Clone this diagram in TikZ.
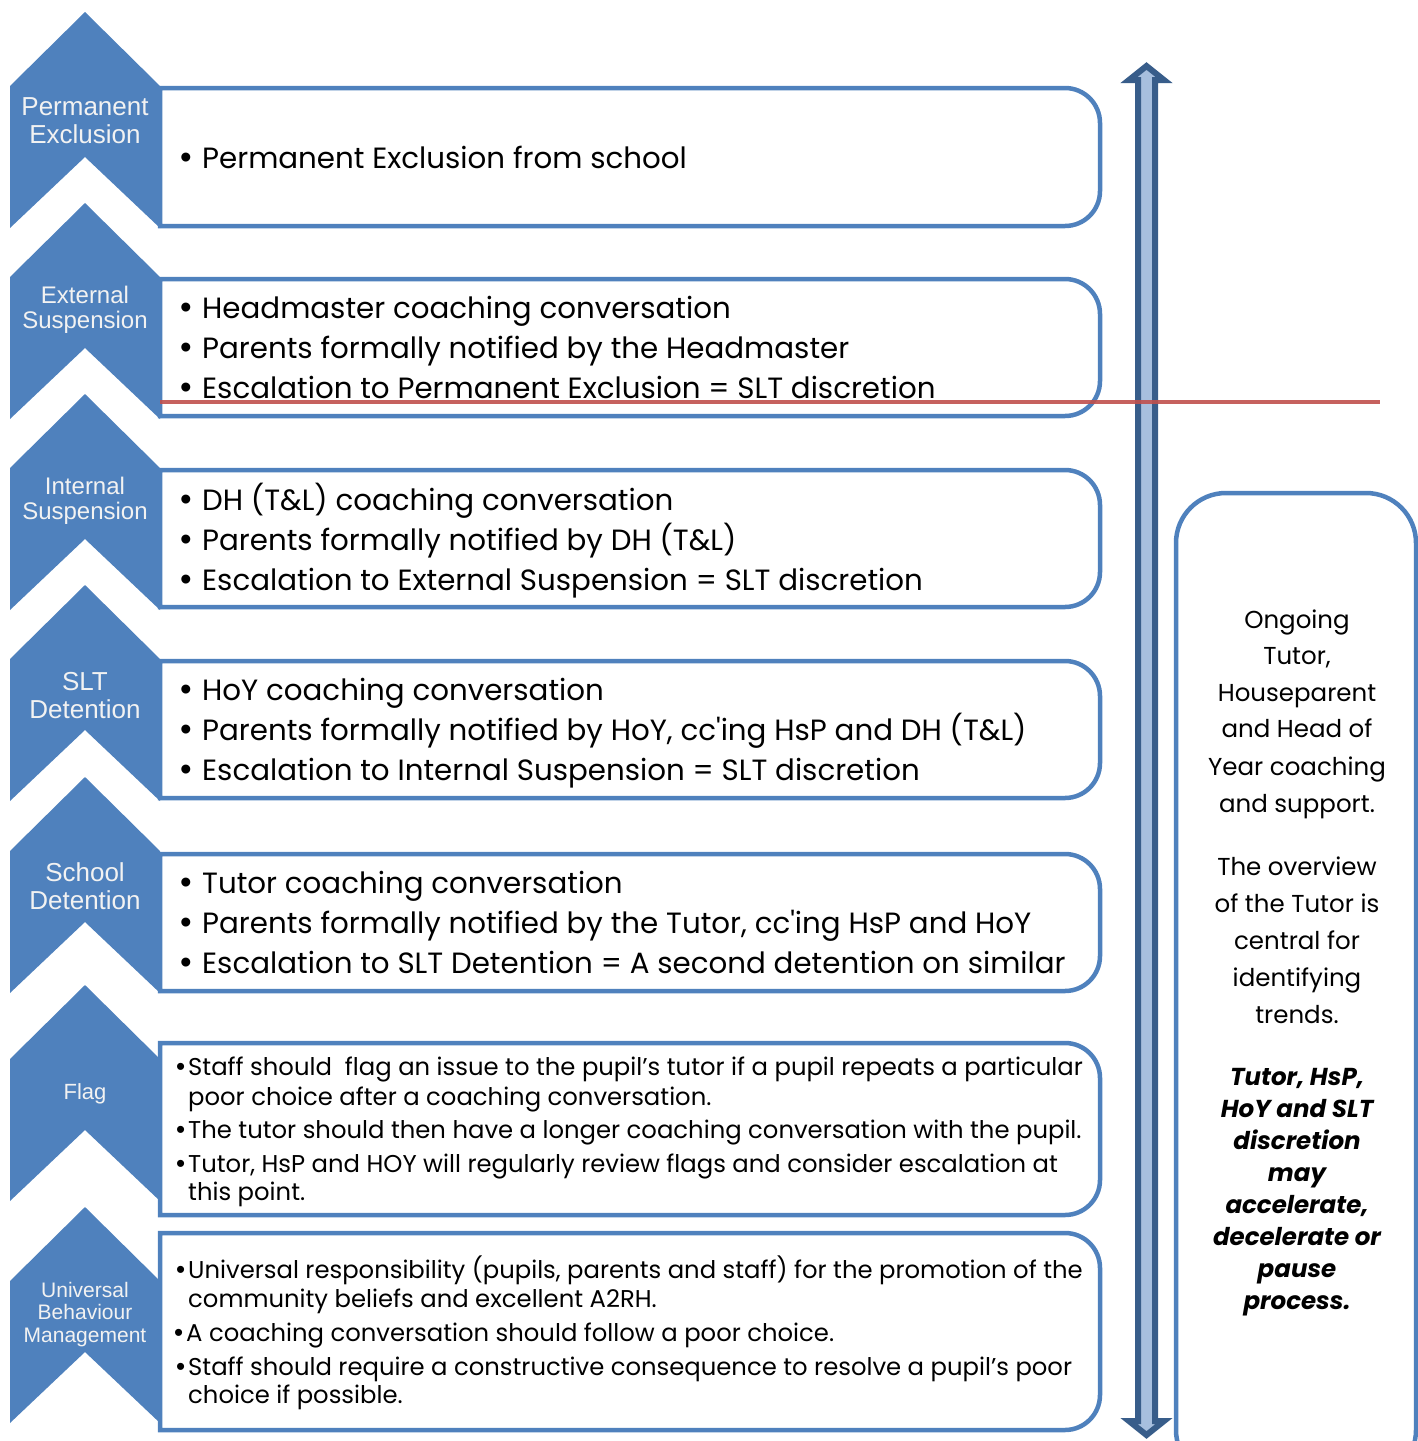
\documentclass[tikz,border=0pt]{standalone}
\usepackage{fontspec}
\setmainfont{Poppins}
\newfontfamily\chevfont{Liberation Sans}
\newcommand\bigbul{\makebox[22pt][l]{\chevfont\fontsize{33}{33}\selectfont •}}
\newcommand\smbul{\makebox[12pt][l]{\chevfont\fontsize{26}{26}\selectfont •}}
\definecolor{chevblue}{HTML}{4F81BD}
\definecolor{arrdark}{HTML}{385D8A}
\definecolor{arrlight}{HTML}{A7BFDE}
\definecolor{redline}{HTML}{C0504D}
\tikzset{
  boxline/.style={draw=chevblue, line width=4.5pt, fill=white},
  chevshape/.style={fill=chevblue},
  chevlabel/.style={text=white!95!black, font=\chevfont, anchor=base, inner sep=0pt},
  bigtext/.style={anchor=base west, inner sep=0pt, font=\fontsize{29.3}{36}\selectfont},
  smalltext/.style={anchor=base west, inner sep=0pt, font=\fontsize{24.3}{29}\selectfont},
  sidetext/.style={anchor=base, inner sep=0pt, font=\fontsize{24.5}{30}\selectfont},
  sidebold/.style={anchor=base, inner sep=0pt, font=\fontsize{24.5}{30}\selectfont\bfseries\itshape},
}
\begin{document}
\begin{tikzpicture}[x=1pt,y=-1pt]
\useasboundingbox (0,0) rectangle (1418,1441);
% content boxes (left square, right rounded)
\foreach \top/\bot/\nm in {88/226/b1,279/416/b2,470/607/b3,661/798/b4,854/991/b5,1043/1215/b6,1233/1430/b7}{
  \draw[boxline] (160,\top) -- (1065,\top) arc[start angle=90,end angle=0,radius=35pt]
     -- (1100,\bot-35) arc[start angle=0,end angle=-90,radius=35pt] -- (160,\bot) -- cycle;
}
% chevrons
\foreach \t in {12,203,394,585,777,985,1207}{
  \fill[chevshape] (10,{\t+74}) -- (85,\t) -- (160,{\t+74}) -- (160,{\t+216}) -- (85,{\t+145}) -- (10,{\t+216}) -- cycle;
}
% chevron labels
\node[chevlabel, font=\chevfont\fontsize{26}{30}\selectfont] (c1a) at (85,115) {Permanent};
\node[chevlabel, font=\chevfont\fontsize{26}{30}\selectfont] (c1b) at (85,143) {Exclusion};
\node[chevlabel, font=\chevfont\fontsize{24}{28}\selectfont] (c2a) at (85,303) {External};
\node[chevlabel, font=\chevfont\fontsize{24}{28}\selectfont] (c2b) at (85,328) {Suspension};
\node[chevlabel, font=\chevfont\fontsize{24}{28}\selectfont] (c3a) at (85,494) {Internal};
\node[chevlabel, font=\chevfont\fontsize{24}{28}\selectfont] (c3b) at (85,519) {Suspension};
\node[chevlabel, font=\chevfont\fontsize{26}{30}\selectfont] (c4a) at (85,690) {SLT};
\node[chevlabel, font=\chevfont\fontsize{26}{30}\selectfont] (c4b) at (85,718) {Detention};
\node[chevlabel, font=\chevfont\fontsize{26}{30}\selectfont] (c5a) at (85,881) {School};
\node[chevlabel, font=\chevfont\fontsize{26}{30}\selectfont] (c5b) at (85,909) {Detention};
\node[chevlabel, font=\chevfont\fontsize{22}{26}\selectfont] (c6a) at (85,1099) {Flag};
\node[chevlabel, font=\chevfont\fontsize{21}{25}\selectfont] (c7a) at (85,1297) {Universal};
\node[chevlabel, font=\chevfont\fontsize{21}{25}\selectfont] (c7b) at (85,1319) {Behaviour};
\node[chevlabel, font=\chevfont\fontsize{21}{25}\selectfont] (c7c) at (85,1342) {Management};
% box texts
\node[bigtext] (t1a) at (180,168) {\bigbul Permanent Exclusion from school};
\node[bigtext] (t2a) at (180,318) {\bigbul Headmaster coaching conversation};
\node[bigtext] (t2b) at (180,358) {\bigbul Parents formally notified by the Headmaster};
\node[bigtext] (t2c) at (180,398) {\bigbul Escalation to Permanent Exclusion = SLT discretion};
\node[bigtext] (t3a) at (180,510) {\bigbul DH (T\&L) coaching conversation};
\node[bigtext] (t3b) at (180,550) {\bigbul Parents formally notified by DH (T\&L)};
\node[bigtext] (t3c) at (180,590) {\bigbul Escalation to External Suspension = SLT discretion};
\node[bigtext] (t4a) at (180,700) {\bigbul HoY coaching conversation};
\node[bigtext] (t4b) at (180,740) {\bigbul Parents formally notified by HoY, cc\textquotesingle ing HsP and DH (T\&L)};
\node[bigtext] (t4c) at (180,780) {\bigbul Escalation to Internal Suspension = SLT discretion};
\node[bigtext] (t5a) at (180,893) {\bigbul Tutor coaching conversation};
\node[bigtext] (t5b) at (180,933) {\bigbul Parents formally notified by the Tutor, cc\textquotesingle ing HsP and HoY};
\node[bigtext] (t5c) at (180,973) {\bigbul Escalation to SLT Detention = A second detention on similar};
% flag box
\node[smalltext] (t6a) at (176,1075) {\smbul Staff should \ flag an issue to the pupil’s tutor if a pupil repeats a particular};
\node[smalltext] (t6b) at (188,1105) {poor choice after a coaching conversation.};
\node[smalltext] (t6c) at (176,1138) {\smbul The tutor should then have a longer coaching conversation with the pupil.};
\node[smalltext] (t6d) at (176,1172) {\smbul Tutor, HsP and HOY will regularly review flags and consider escalation at};
\node[smalltext] (t6e) at (188,1200) {this point.};
% universal box
\node[smalltext] (t7a) at (176,1278) {\smbul Universal responsibility (pupils, parents and staff) for the promotion of the};
\node[smalltext] (t7b) at (188,1307) {community beliefs and excellent A2RH.};
\node[smalltext] (t7c) at (174,1341) {\smbul A coaching conversation should follow a poor choice.};
\node[smalltext] (t7d) at (176,1375) {\smbul Staff should require a constructive consequence to resolve a pupil’s poor};
\node[smalltext] (t7e) at (188,1403) {choice if possible.};
% side box
\draw[boxline, rounded corners=50pt] (1176,493) rectangle (1416,1480);
\foreach \txt/\yy/\nm in {Ongoing/628/s1, {Tutor,}/664/s2, Houseparent/701/s3, and Head of/737/s4, Year coaching/775/s5, and support./812/s6,
  The overview/875/s7, of the Tutor is/912/s8, central for/949/s9, identifying/986/s10, trends./1023/s11}{
  \node[sidetext] (\nm) at (1297,\yy) {\txt};
}
\foreach \txt/\yy/\nm in {{Tutor, HsP,}/1085/q1, HoY and SLT/1117/q2, discretion/1149/q3, may/1181/q4, {accelerate,}/1213/q5, decelerate or/1245/q6, pause/1277/q7, process./1309/q8}{
  \node[sidebold] (\nm) at (1297,\yy) {\txt};
}
% double arrow
\draw[fill=arrlight, draw=arrdark, line width=6pt, line join=miter]
  (1146.5,66) -- (1164,80) -- (1155,80) -- (1155,1421) -- (1164,1421) -- (1146.5,1435)
  -- (1129,1421) -- (1138,1421) -- (1138,80) -- (1129,80) -- cycle;
% red line
\coordinate (rl1) at (160,402);
\coordinate (rl2) at (1380,402);
\draw[redline, line width=4.5pt, opacity=0.9] (rl1) -- (rl2);
\end{tikzpicture}
\end{document}
